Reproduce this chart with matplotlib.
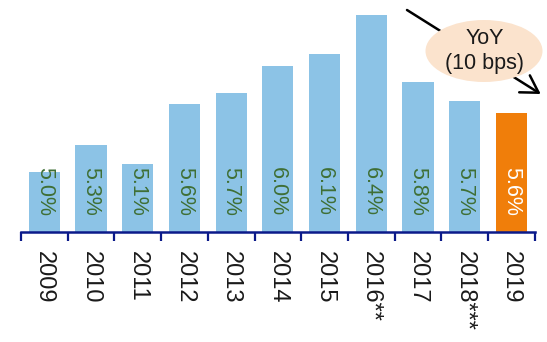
import matplotlib
matplotlib.use("Agg")
from matplotlib import pyplot as plt
from matplotlib.patches import Ellipse
import numpy as np

# growth rate by year
years = ["2009", "2010", "2011", "2012", "2013", "2014", "2015", "2016**", "2017", "2018***", "2019"]
rates = [5.04, 5.28, 5.11, 5.64, 5.74, 5.98, 6.09, 6.44, 5.84, 5.67, 5.56]
note = "YoY\n(10 bps)"

blue = "#8cc3e6"
orange = "#f07e0a"
navy = "#0b1a8a"
font = "Liberation Sans"

W, H = 547, 342
fig = plt.figure(figsize=(W/100, H/100), dpi=100)
ax = fig.add_axes([21/W, 110/H, 513.7/W, 232/H])

x = np.arange(len(years))
colors = [blue]*(len(years)-1) + [orange]
ax.bar(x, rates, width=0.67, color=colors, zorder=2)
ax.set_ylim(4.5, 4.5 + 232/112)
ax.set_xlim(-0.5, len(years)-0.5)

# value labels, rotated, all starting at the same height
for i, r in enumerate(rates):
    c = "white" if i == len(rates)-1 else "#3f6f35"
    ax.text(i, 5.08, "%.1f%%" % r, rotation=270, ha="center", va="top",
            fontsize=15.5, color=c, family=font, zorder=3)

for s in ["top", "right", "left"]:
    ax.spines[s].set_visible(False)
ax.spines["bottom"].set_color(navy)
ax.spines["bottom"].set_linewidth(1.8)
ax.set_yticks([])

ax.set_xticks(x)
ax.set_xticklabels(years, rotation=270, ha="center", va="top",
                   fontsize=17, family=font, color="#1a1a1a")
ax.tick_params(axis="x", which="major", length=0, pad=13.5)
ax.set_xticks(np.arange(-0.5, len(years)), minor=True)
ax.tick_params(axis="x", which="minor", length=6.5, width=1.6, color=navy, direction="out")

# arrow with the YoY bubble on top of it
ax.annotate("", xy=(540.7/W, 1-94/H), xytext=(407/W, 1-10/H),
            xycoords="figure fraction", textcoords="figure fraction",
            arrowprops=dict(arrowstyle="->,head_length=0.4,head_width=0.24", lw=1.8,
                            color="black", mutation_scale=30, shrinkA=0, shrinkB=0),
            zorder=5, annotation_clip=False)
ell = Ellipse((484/W, 1-51/H), 117/W, 62/H, transform=fig.transFigure,
              facecolor="#fbe3cd", edgecolor="none", zorder=6)
fig.patches.append(ell)
fig.text(485/W, 1-51/H, note, ha="center", va="center", fontsize=15.5,
         family=font, linespacing=1.2, color="#1a1a1a", zorder=7)

plt.savefig("out.png", dpi=100)
plt.close()
